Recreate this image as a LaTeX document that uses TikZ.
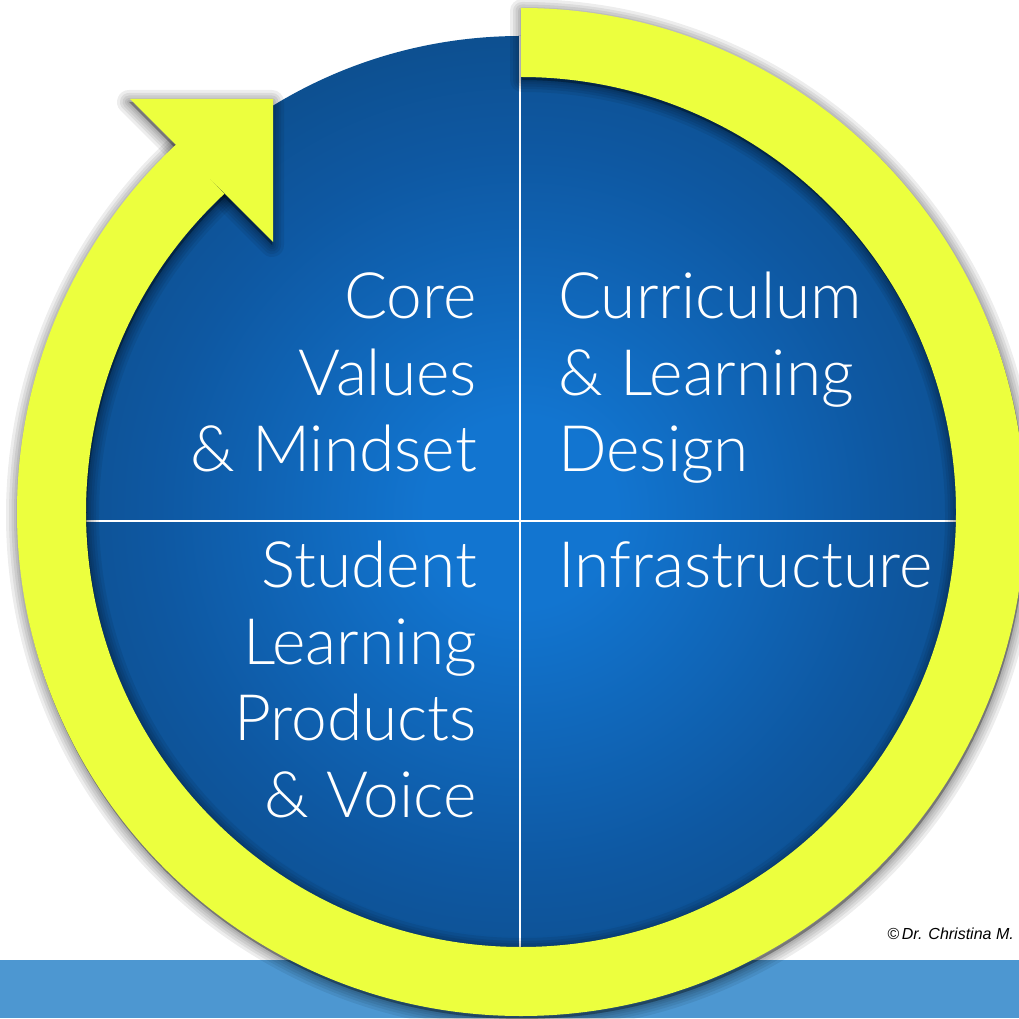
\documentclass[tikz,border=0pt]{standalone}
\usepackage{fontspec}
\newfontfamily\dfont{Lato Light}
\newfontfamily\cfont{Liberation Sans}
\definecolor{ringY}{RGB}{236,255,62}
\definecolor{barB}{RGB}{77,151,209}
\definecolor{diskIn}{RGB}{18,117,208}
\definecolor{diskMid}{RGB}{14,88,162}
\definecolor{diskMid2}{RGB}{12,70,124}
\definecolor{diskOut}{RGB}{11,56,96}
\pgfdeclareradialshading{diskshade}{\pgfpointorigin}{color(0bp)=(diskIn); color(5bp)=(diskIn); color(19bp)=(diskMid); color(32bp)=(diskMid2); color(44bp)=(diskOut); color(72bp)=(diskOut)}
\newcommand\myringpath{(521,1010) arc[start angle=90, end angle=-227, radius=504] -- ++(313:69) arc[start angle=-227, end angle=90, radius=435] -- cycle}
\newcommand\myarrowpath{(130,919) -- (273,919) -- (273,776) -- cycle}
\tikzset{
  lbl/.style={font=\dfont\fontsize{64}{76.5}\selectfont, text=white, inner sep=0pt},
  divider/.style={draw=white, line width=2pt},
  shade ring/.style={draw=black, fill=black, opacity=0.07, line join=round},
}
\begin{document}
\begin{tikzpicture}[x=1pt,y=1pt]
\useasboundingbox (0,0) rectangle (1019,1018);
\clip (0,0) rectangle (1019,1018);
\fill[white] (0,0) rectangle (1019,1018);
% bottom bar
\fill[barB] (0,0) rectangle (1019,58);
% blue disk
\path[shading=diskshade] (521,506) circle[radius=476];
% dividers
\draw[divider] (520,982) -- (520,30);
\draw[divider] (40,497) -- (1000,497);
% labels
\node[lbl, anchor=base east, align=right] (core) at (477,546) {Core\\Values\\\& Mindset};
\node[lbl, anchor=base west, align=left] (curr) at (558,546) {Curriculum\\\& Learning\\Design};
\node[lbl, anchor=base east, align=right] (stud) at (477,201) {Student\\Learning\\Products\\\& Voice};
\node[lbl, anchor=base west, align=left] (infra) at (558,430) {Infrastructure};
% ring shadow
\foreach \w in {24,18,13,8,4}{
  \path[shade ring, line width=\w pt, shift={(1,-3)}] \myringpath;
  \path[shade ring, line width=\w pt, shift={(-1,-3)}] \myarrowpath;
}
% ring and arrow head
\fill[ringY] \myringpath;
\fill[ringY] \myarrowpath;
% copyright
\node[font=\cfont\itshape\fontsize{16}{19}\selectfont, anchor=base east, inner sep=0pt] (copy) at (1014,79) {©\,Dr. Christina M.};
\end{tikzpicture}
\end{document}
